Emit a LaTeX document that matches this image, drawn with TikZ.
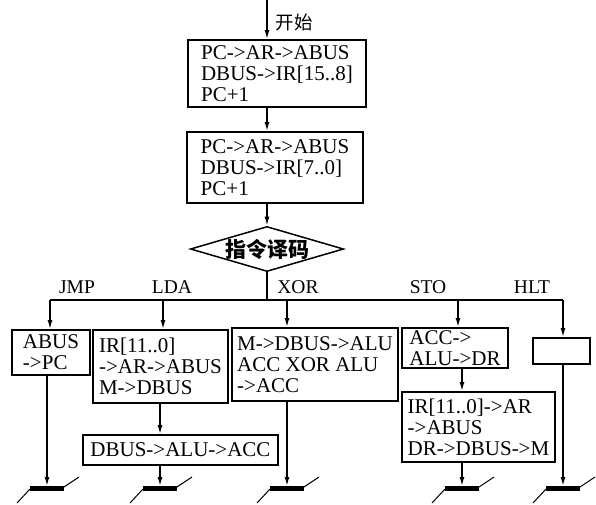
\documentclass[tikz,border=0pt]{standalone}
\usepackage{fontspec}
\setmainfont{Liberation Serif}
\newfontfamily\cjk{Noto Sans CJK SC}
\usepackage{tikz}
\usetikzlibrary{arrows.meta,shapes.geometric}
\newcommand{\boxfont}{\fontsize{21}{21}\selectfont}
\tikzset{
  opbox/.style={rectangle,draw,line width=1.8pt,align=left,
                font=\boxfont,inner sep=1pt},
  decide/.style={diamond,draw,line width=1.5pt,aspect=3.4,inner sep=0pt,
                 font=\cjk\bfseries\fontsize{21}{21}\selectfont},
  flow/.style={-{Latex[length=9pt,width=5pt]},line width=1.5pt},
  bus/.style={line width=1.5pt},
  oplabel/.style={font=\fontsize{19.5}{19.5}\selectfont},
  ground/.pic={
    \draw[line width=5pt] (-17,2.5) -- (17,2.5);
    \draw[line width=1pt] (-30,17) -- (-17,3) (17,1) -- (32,-9);
  },
}

\begin{document}
\begin{tikzpicture}[x=1pt,y=-1pt]
  \useasboundingbox (0,0) rectangle (596,504);

  % fetch and decode
  \coordinate (start) at (267,0);
  \node[font=\cjk\fontsize{18.5}{18.5}\selectfont,anchor=west] (begin)
    at (272,22) {开始};
  \node[opbox,minimum width=178pt,minimum height=67pt] (fetchhi)
    at (277,73.5) {PC->AR->ABUS\\DBUS->IR[15..8]\\PC+1};
  \node[opbox,minimum width=176pt,minimum height=71pt] (fetchlo)
    at (275,167.5) {PC->AR->ABUS\\DBUS->IR[7..0]\\PC+1};
  \node[decide] (dec) at (267,249) {指令译码};

  \draw[flow] (start) -- (start |- fetchhi.north);
  \draw[flow] (fetchhi.south -| start) -- (fetchlo.north -| start);
  \draw[flow] (fetchlo.south -| start) -- (dec.north);

  % branches
  \coordinate (bJ) at (50,300);
  \coordinate (bL) at (163,300);
  \coordinate (bX) at (287,300);
  \coordinate (bS) at (458,300);
  \coordinate (bH) at (563,300);
  \draw[bus] (dec.south) -- (dec.south |- bJ);
  \draw[bus] (bJ) -- (bH);

  \node[oplabel] (lJMP) at (77,287) {JMP};
  \node[oplabel] (lLDA) at (172,287) {LDA};
  \node[oplabel] (lXOR) at (298,287) {XOR};
  \node[oplabel] (lSTO) at (428,287) {STO};
  \node[oplabel] (lHLT) at (532,287) {HLT};

  % execute
  \node[opbox,minimum width=78pt,minimum height=45pt] (jmp)
    at (51,352.5) {ABUS\\->PC};
  \node[opbox,minimum width=135pt,minimum height=73pt] (lda)
    at (160.5,366.5) {IR[11..0]\\->AR->ABUS\\M->DBUS};
  \node[opbox,minimum width=195pt,minimum height=30pt] (ldab)
    at (180.5,450) {DBUS->ALU->ACC};
  \node[opbox,minimum width=166pt,minimum height=73pt] (xor)
    at (315,364.5) {M->DBUS->ALU\\ACC XOR ALU\\->ACC};
  \node[opbox,minimum width=106pt,minimum height=40pt,inner ysep=0pt] (sto)
    at (455,348) {ACC->\\ALU->DR};
  \node[opbox,minimum width=153pt,minimum height=70pt] (stob)
    at (478.5,427) {IR[11..0]->AR\\->ABUS\\DR->DBUS->M};
  \node[opbox,minimum width=57pt,minimum height=26pt] (hlt)
    at (561.5,351) {};

  \draw[flow] (bJ) -- (bJ |- jmp.north);
  \draw[flow] (bL) -- (bL |- lda.north);
  \draw[flow] (bX) -- (bX |- xor.north);
  \draw[flow] (bS) -- (bS |- sto.north);
  \draw[flow] (bH) -- (bH |- hlt.north);

  % ends
  \coordinate (gJ) at (47,486);
  \coordinate (gL) at (160,486);
  \coordinate (gX) at (287,486);
  \coordinate (gS) at (462,486);
  \coordinate (gH) at (563,486);
  \foreach \g in {gJ,gL,gX,gS,gH}
    \pic at (\g) {ground};

  \draw[flow] (jmp.south -| gJ) -- (gJ);
  \draw[flow] (lda.south -| gL) -- (ldab.north -| gL);
  \draw[flow] (ldab.south -| gL) -- (gL);
  \draw[flow] (xor.south -| gX) -- (gX);
  \draw[flow] (sto.south -| gS) -- (stob.north -| gS);
  \draw[flow] (stob.south -| gS) -- (gS);
  \draw[flow] (hlt.south -| gH) -- (gH);
\end{tikzpicture}
\end{document}
